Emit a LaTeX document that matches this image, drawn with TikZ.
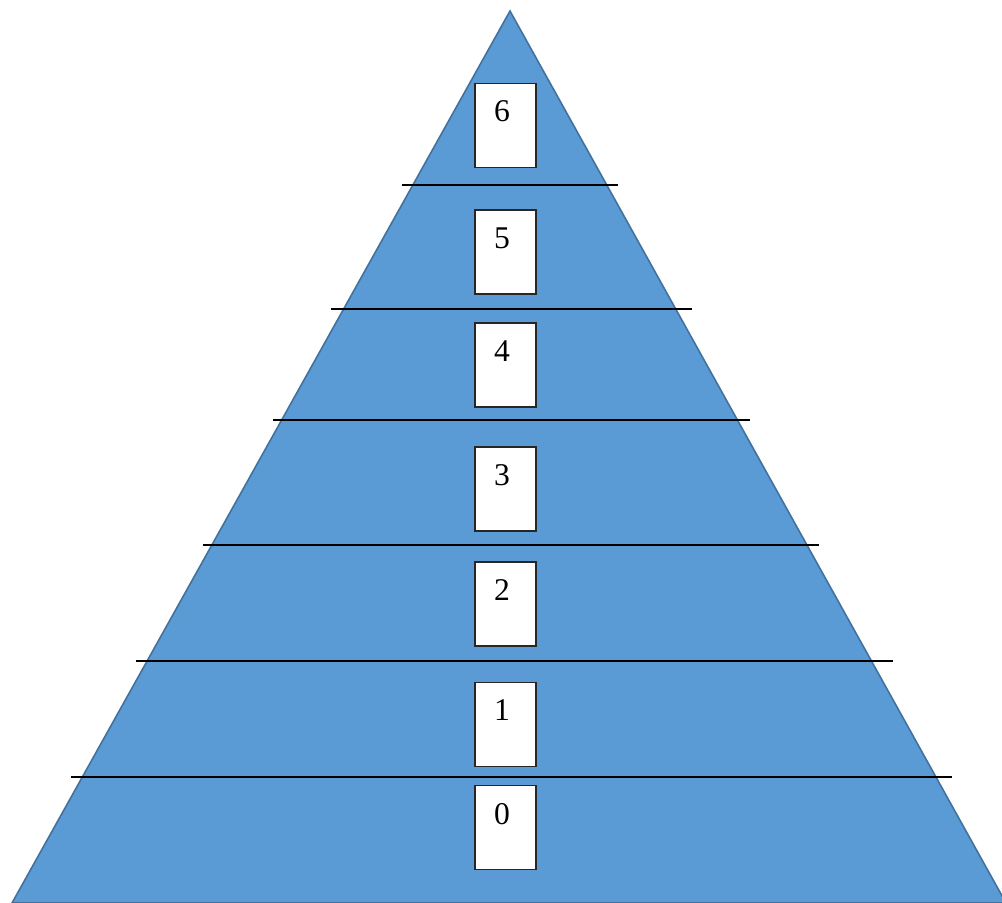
\documentclass[tikz,border=0pt]{standalone}
\usepackage{fontspec}
\setmainfont{Liberation Serif}
\definecolor{pyrfill}{HTML}{5B9BD5}
\definecolor{pyredge}{HTML}{41719C}
\definecolor{boxedge}{HTML}{262626}

\begin{document}
\begin{tikzpicture}[
		x=0.02cm, y=-0.02cm,
		every node/.style={rectangle, draw=boxedge, line width=0.8pt, fill=white,
			minimum width=1.22cm, minimum height=1.68cm, inner sep=0pt},
		level/.style={draw=none, fill=none, minimum size=0pt, font=\fontsize{18}{20}\selectfont},
		sep/.style={line width=0.8pt, black}
	]
  \useasboundingbox (0,0) rectangle (1002,903);
  \filldraw[fill=pyrfill, draw=pyredge, line width=0.9pt] (510,11) -- (1006,903) -- (12,903) -- cycle;
  \node (b6) at (505.5,125.5) {};
  \node (b6_label) [level] at (502,111) {6};
  \node (b5) at (505.5,252) {};
  \node (b5_label) [level] at (502,238) {5};
  \node (b4) at (505.5,365) {};
  \node (b4_label) [level] at (502,351) {4};
  \node (b3) at (505.5,489) {};
  \node (b3_label) [level] at (502,475) {3};
  \node (b2) at (505.5,604) {};
  \node (b2_label) [level] at (502,590) {2};
  \node (b1) at (505.5,724.5) {};
  \node (b1_label) [level] at (502,710) {1};
  \node (b0) at (505.5,827.5) {};
  \node (b0_label) [level] at (502,814) {0};
  \draw[sep] (402,185) -- (618,185);
  \draw[sep] (331,309) -- (692,309);
  \draw[sep] (273,420) -- (750,420);
  \draw[sep] (203,545) -- (819,545);
  \draw[sep] (136,661) -- (893,661);
  \draw[sep] (71,777) -- (952,777);
\end{tikzpicture}
\end{document}
